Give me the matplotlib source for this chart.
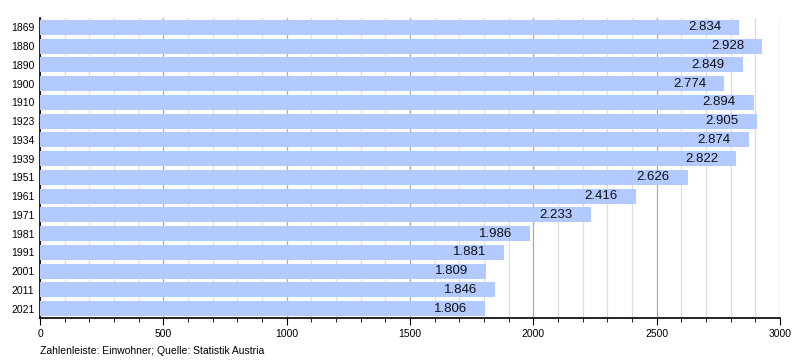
import numpy as np
import matplotlib.pyplot as plt
from matplotlib.ticker import MultipleLocator

years = ['1869', '1880', '1890', '1900', '1910', '1923', '1934', '1939',
         '1951', '1961', '1971', '1981', '1991', '2001', '2011', '2021']
population = [2834, 2928, 2849, 2774, 2894, 2905, 2874, 2822,
              2626, 2416, 2233, 1986, 1881, 1809, 1846, 1806]

plt.rcParams['font.family'] = ['Liberation Sans', 'DejaVu Sans']

fig = plt.figure(figsize=(8, 3.6), dpi=100)
ax = fig.add_axes([0.05, 0.1167, 0.925, 0.8333])

y = np.arange(len(years))
ax.barh(y, population, height=0.8, color='#b2caff', zorder=3)

for yi, v in zip(y, population):
    label = '{:.3f}'.format(v / 1000)
    ax.annotate(label, xy=(v, yi), xytext=(-13, 0), textcoords='offset points',
                ha='right', va='center', fontsize=9.5, color='#111111', zorder=4)

ax.set_xlim(0, 3000)
ax.set_ylim(len(years) - 0.5, -0.5)
ax.set_yticks(y)
ax.set_yticklabels(years, fontsize=7.5)
ax.tick_params(axis='y', length=0, pad=4)

ax.xaxis.set_major_locator(MultipleLocator(500))
ax.xaxis.set_minor_locator(MultipleLocator(100))
ax.tick_params(axis='x', which='major', length=5, labelsize=7.5, pad=3)
ax.tick_params(axis='x', which='minor', length=3)
ax.grid(axis='x', which='major', color='#aaaaaa', linewidth=0.9, zorder=0)
ax.grid(axis='x', which='minor', color='#dddddd', linewidth=0.9, zorder=0)

ax.spines['top'].set_visible(False)
ax.spines['right'].set_visible(False)
ax.spines['left'].set_linewidth(1.2)
ax.spines['bottom'].set_linewidth(1.2)

fig.text(0.05, 0.018, 'Zahlenleiste: Einwohner; Quelle: Statistik Austria', fontsize=7.5)

fig.savefig('out.png', dpi=100)
